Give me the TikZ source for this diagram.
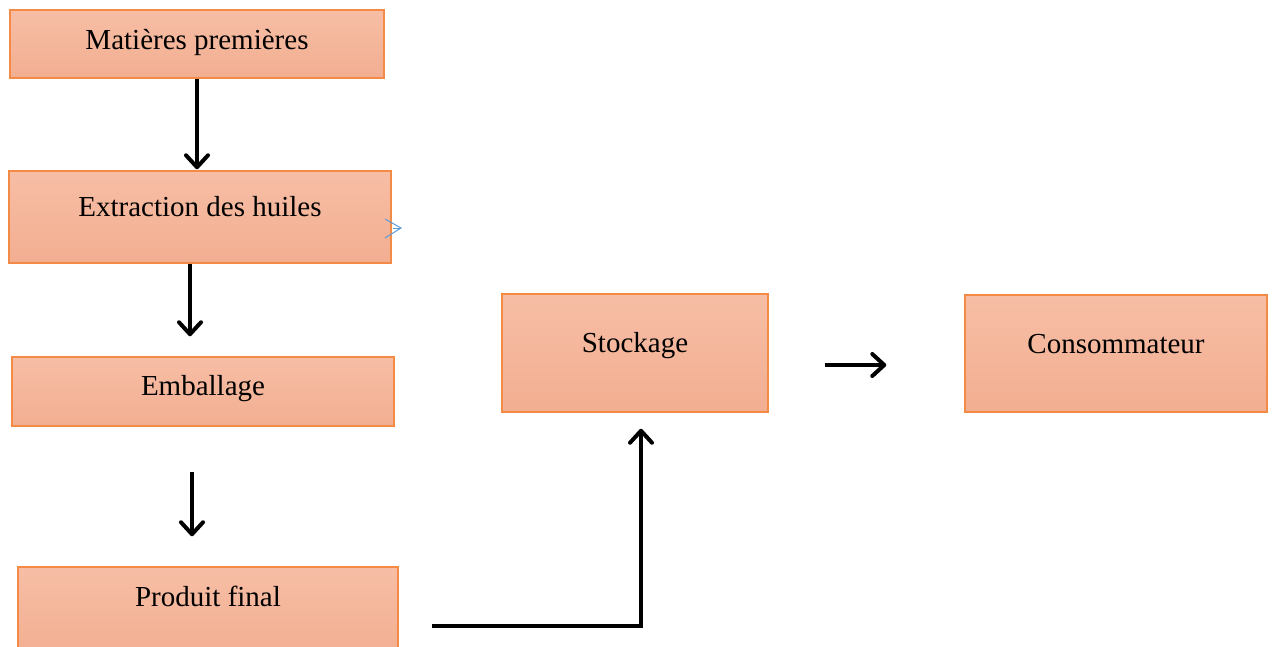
\documentclass[tikz,border=0pt]{standalone}
\usepackage{fontspec}
\setmainfont{Liberation Serif}
\usetikzlibrary{positioning,calc,arrows.meta}

\definecolor{boxtop}{HTML}{F7BEA5}
\definecolor{boxbot}{HTML}{F2AE91}
\definecolor{boxline}{HTML}{F38B47}
\definecolor{stray}{HTML}{5B9BD5}

\tikzset{
  procbox/.style={rectangle, draw=boxline, line width=1.5pt,
    top color=boxtop, bottom color=boxbot, inner sep=0pt,
    font=\fontsize{29}{34}\selectfont, text height=19pt},
  flow/.style={line width=3.6pt, -{Straight Barb[length=12pt,width=22pt,line width=4pt,round]}}
}

\begin{document}
\begin{tikzpicture}[x=1pt,y=-1pt]
    \useasboundingbox (0,0) rectangle (1272,646);
    \clip (0,0) rectangle (1272,646);

    % Left column
    \node[procbox, minimum width=374pt, minimum height=68pt, text depth=8pt] (mat) at (197,44) {Matières premières};
    \node[procbox, minimum width=382pt, minimum height=92pt, text depth=20pt] (ext) at (200,217) {Extraction des huiles};
    \node[procbox, minimum width=382pt, minimum height=69pt, text depth=11pt] (emb) at (203,391.5) {Emballage};
    \node[procbox, minimum width=380pt, minimum height=90pt, text depth=30pt] (prod) at (208,612) {Produit final};

    % Right part
    \node[procbox, minimum width=266pt, minimum height=118pt, text depth=20pt] (sto) at (635,353) {Stockage};
    \node[procbox, minimum width=302pt, minimum height=117pt, text depth=19pt] (con) at (1116,353.5) {Consommateur};

    % Arrows
    \draw[flow] (mat.south) -- ($(ext.north)+(-3,-1)$);
    \draw[flow] ($(ext.south)+(-10,0)$) -- ($(emb.north)+(-13,-20)$);
    \draw[flow] ($(emb.south)+(-11,45)$) -- ($(prod.north)+(-16,-30)$);
    \draw[flow] ($(prod.east)+(33,14)$) -| ($(sto.south)+(6,16)$);
    \draw[flow] ($(sto.east)+(56,12)$) -- ($(con.west)+(-78,11.5)$);

    % small blue mark
    \draw[stray, line width=1pt] (385,219) -- (401,228) -- (385,238);
    \draw[stray, line width=1pt] (393,228) -- (401,228);

\end{tikzpicture}
\end{document}
